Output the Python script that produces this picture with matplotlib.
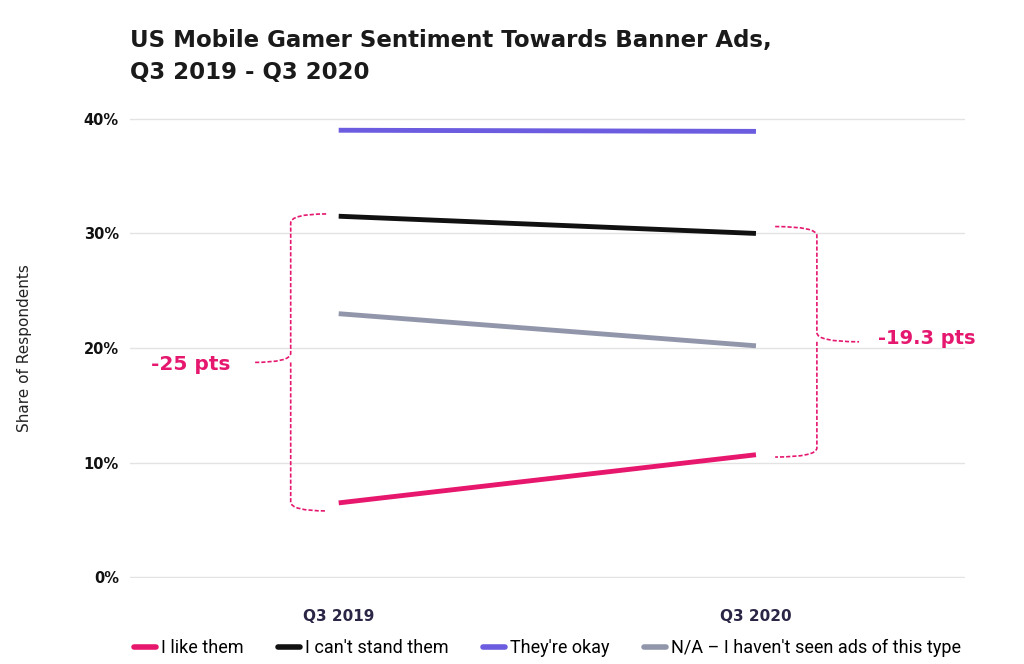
import matplotlib.pyplot as plt
from matplotlib.path import Path
from matplotlib.patches import PathPatch

quarters = ["Q3 2019", "Q3 2020"]
series_names = ["I like them", "I can't stand them", "They're okay",
                "N/A – I haven't seen ads of this type"]
like_them = [6.5, 10.7]
cant_stand = [31.5, 30.0]
okay = [39.0, 38.9]
not_seen = [23.0, 20.2]
gap_labels = ["-25 pts", "-19.3 pts"]

colors = ["#e8176e", "#111111", "#6b5ce0", "#9296aa"]
pink = "#e5176f"


def brace(ax, x_v, x_tip, x_mid, y_top, y_bot, color):
    y_mid = (y_top + y_bot) / 2
    r = 0.8
    verts = [
        (x_tip, y_top), (x_v, y_top), (x_v, y_top - r),
        (x_v, y_mid + r),
        (x_v, y_mid), (x_mid, y_mid),
        (x_v, y_mid), (x_v, y_mid - r),
        (x_v, y_bot + r),
        (x_v, y_bot), (x_tip, y_bot),
    ]
    codes = [Path.MOVETO, Path.CURVE3, Path.CURVE3, Path.LINETO,
             Path.CURVE3, Path.CURVE3, Path.MOVETO, Path.CURVE3,
             Path.LINETO, Path.CURVE3, Path.CURVE3]
    ax.add_patch(PathPatch(Path(verts, codes), fill=False, edgecolor=color,
                           lw=1.2, ls=(0, (2.5, 1.2)), zorder=4, clip_on=False))
    return y_mid


fig = plt.figure(figsize=(10.24, 6.64), dpi=100)
ax = fig.add_axes([0.127, 0.1295, 0.815, 0.6925])

x = list(range(len(quarters)))
for vals, name, c in zip([like_them, cant_stand, okay, not_seen], series_names, colors):
    ax.plot(x, vals, color=c, lw=3.5, label=name, solid_capstyle="butt", zorder=3)

ax.set_xlim(-0.5, 1.5)
ax.set_ylim(-0.05, 40.05)
ax.set_yticks([0, 10, 20, 30, 40])
ax.set_yticklabels([f"{v}%" for v in [0, 10, 20, 30, 40]], fontsize=10.5,
                   fontweight="bold", color="#111111")
ax.set_xticks(x)
ax.set_xticklabels(quarters, fontsize=11, fontweight="bold", color="#2b2646")
ax.tick_params(length=0)
ax.tick_params(axis="x", pad=22)
ax.tick_params(axis="y", pad=8)
ax.grid(axis="y", color="#e3e3e3", lw=1)
ax.set_axisbelow(True)
for s in ax.spines.values():
    s.set_visible(False)
ax.set_ylabel("Share of Respondents", fontsize=11, color="#222222")
ax.yaxis.set_label_coords(-0.118, 0.5)

# braces
ym = brace(ax, -0.115, -0.03, -0.205, cant_stand[0] + 0.2, like_them[0] - 0.7, pink)
ax.text(-0.355, ym - 0.2, gap_labels[0], color=pink, fontsize=14.5, fontweight="bold",
        ha="center", va="center")
ym = brace(ax, 1.146, 1.046, 1.247, cant_stand[1] + 0.6, like_them[1] - 0.2, pink)
ax.text(1.41, ym + 0.3, gap_labels[1], color=pink, fontsize=14, fontweight="bold",
        ha="center", va="center")

fig.text(0.127, 0.915, "US Mobile Gamer Sentiment Towards Banner Ads,\nQ3 2019 - Q3 2020",
         fontsize=16.5, fontweight="bold", color="#1a1a1a", ha="left", va="center",
         linespacing=1.5)

leg = fig.legend(loc="center", bbox_to_anchor=(0.535, 0.024), ncol=4, frameon=False,
                 handlelength=1.2, handletextpad=0.3, columnspacing=1.9,
                 prop={"family": "Roboto", "size": 13})
for line in leg.get_lines():
    line.set_linewidth(4)
    line.set_solid_capstyle("round")

fig.savefig("out.png", dpi=100, facecolor="white")
